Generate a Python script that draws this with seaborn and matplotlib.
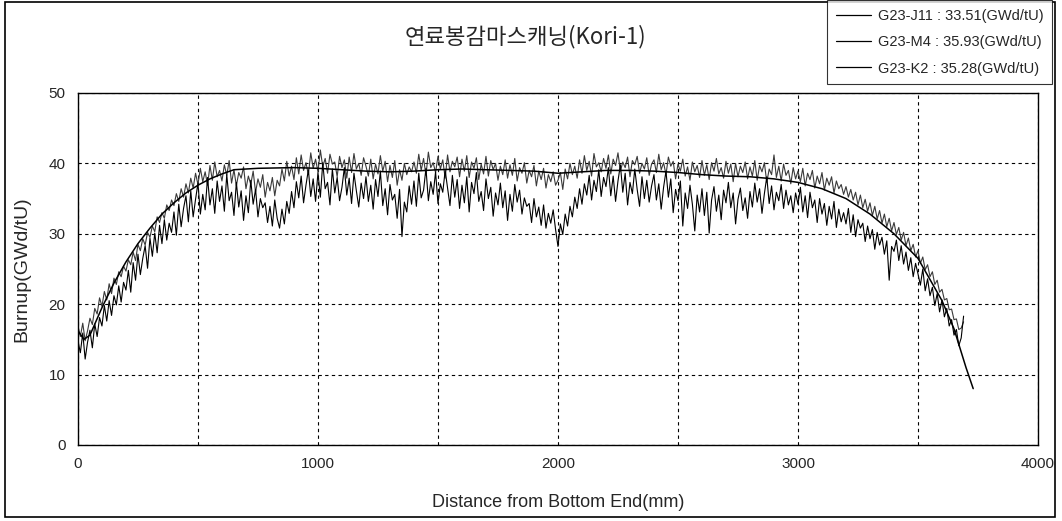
import numpy as np
import pandas as pd
import matplotlib
matplotlib.use('Agg')
import matplotlib.pyplot as plt
import seaborn as sns
from matplotlib.patches import Rectangle

# Distance (mm) and burnup (GWd/tU), 10 mm steps
noisy_x = list(range(0, 3700, 10))

j11_vals = [
    14.8, 13.1, 15.9, 12.2, 14.6, 16.3, 13.8, 17.2, 15.4, 18.1, 16.9, 19.8, 17.6, 20.5, 18.4, 21.2, 19.9, 22.6, 20.3, 23.1,
    22.0, 24.8, 21.7, 25.9, 23.4, 27.1, 24.2, 26.5, 28.3, 25.1, 29.4, 26.8, 30.1, 27.3, 31.2, 28.6, 32.0, 29.1, 31.5, 30.2,
    33.1, 29.8, 34.2, 31.0, 33.6, 35.4, 31.7, 36.1, 32.4, 34.9, 37.2, 32.8, 35.6, 33.4, 38.0, 34.1, 36.4, 32.9, 37.5, 34.6,
    36.8, 33.2, 38.4, 34.7, 35.9, 32.6, 37.3, 33.8, 36.1, 31.9, 35.4, 33.0, 37.6, 34.2, 36.3, 32.4, 35.0, 33.7, 34.4, 31.6,
    33.9, 31.1, 34.8, 32.2, 30.8, 33.5, 31.4, 34.6, 32.9, 36.0, 33.7, 37.4, 35.1, 38.2, 34.4, 36.9, 39.1, 35.3, 37.8, 34.6,
    38.7, 35.2, 40.1, 36.4, 37.3, 34.1, 39.2, 35.8, 38.0, 34.7, 36.6, 39.4, 35.5, 37.9, 34.3, 38.6, 36.1, 33.8, 37.2, 35.0,
    38.1, 34.6, 36.9, 33.5, 37.7, 35.3, 38.9, 34.0, 36.4, 32.7, 37.0, 34.8, 35.6, 32.2, 36.3, 29.6, 34.5, 33.1, 36.8, 34.2,
    37.5, 33.9, 38.6, 35.1, 36.2, 39.3, 34.7, 37.4, 35.6, 38.8, 34.3, 37.1, 35.9, 39.0, 36.5, 34.0, 38.3, 35.2, 37.7, 33.6,
    36.9, 34.4, 38.1, 33.1, 37.3, 35.7, 38.7, 34.6, 36.0, 33.3, 37.8, 35.0, 36.6, 32.5, 35.8, 34.1, 37.2, 33.7, 36.1, 31.9,
    35.6, 33.2, 37.0, 34.5, 36.2, 32.8, 35.1, 33.9, 34.3, 31.6, 35.0, 32.4, 33.8, 31.2, 34.1, 30.8, 32.9, 31.5, 33.4, 30.6,
    28.2, 31.4, 29.9, 32.8, 31.1, 33.9, 32.4, 35.2, 33.6, 36.4, 34.2, 37.1, 35.5, 38.3, 34.8, 37.6, 36.0, 39.1, 35.3, 38.0,
    36.7, 39.4, 35.4, 38.2, 34.6, 37.5, 39.8, 35.9, 38.6, 34.1, 37.3, 35.7, 39.2, 36.3, 33.9, 38.1, 35.0, 37.6, 34.5, 36.8,
    38.4, 34.8, 37.1, 33.5, 36.6, 38.9, 35.2, 37.8, 33.0, 36.3, 34.7, 37.5, 31.1, 35.8, 33.6, 36.9, 34.2, 30.4, 35.5, 33.1,
    36.4, 32.6, 35.9, 30.1, 34.8, 36.7, 33.2, 35.5, 32.0, 36.2, 34.4, 37.3, 33.7, 35.8, 31.4, 34.9, 36.5, 33.3, 35.1, 32.2,
    36.0, 33.8, 37.2, 34.5, 36.4, 32.9, 35.7, 38.1, 34.3, 36.8, 33.4, 35.9, 34.7, 37.0, 33.6, 36.2, 34.1, 35.4, 33.0, 35.8,
    34.2, 36.6, 33.1, 35.4, 32.3, 35.9, 33.7, 34.8, 31.6, 35.0, 32.8, 34.3, 31.2, 33.9, 32.1, 34.6, 30.9, 33.5, 31.7, 33.0,
    31.4, 33.6, 30.2, 32.7, 29.6, 32.0, 30.8, 31.5, 28.9, 31.1, 29.3, 30.6, 27.8, 30.2, 28.4, 29.5, 27.1, 29.0, 23.4, 28.2,
    27.5, 29.1, 26.2, 28.3, 25.7, 27.4, 24.8, 26.6, 23.9, 25.8, 24.3, 22.7, 25.0, 21.9, 23.6, 21.2, 22.4, 19.8, 21.5, 18.9,
    20.6, 18.2, 19.4, 16.9, 17.8, 15.6, 16.4, 14.1, 15.2, 18.3,
]

m4_vals = [
    16.9, 15.4, 17.3, 14.8, 16.2, 18.0, 17.1, 19.4, 18.6, 20.9, 19.7, 21.8, 20.6, 22.9, 21.5, 23.7, 22.8, 24.6, 23.9, 25.4,
    24.7, 26.3, 25.6, 27.4, 26.2, 28.5, 27.6, 29.3, 28.4, 30.2, 29.5, 31.1, 30.3, 32.4, 31.6, 33.0, 32.2, 34.1, 33.3, 34.8,
    34.0, 35.7, 34.6, 36.4, 35.2, 37.1, 35.8, 37.9, 36.5, 38.6, 37.0, 39.3, 37.4, 38.8, 36.9, 39.7, 37.6, 40.2, 38.1, 39.0,
    37.5, 39.8, 38.3, 40.4, 37.2, 39.1, 36.8, 38.7, 37.9, 39.5, 36.4, 38.2, 37.0, 38.9, 35.9, 37.8, 36.6, 38.4, 35.2, 37.3,
    36.1, 38.0, 35.4, 37.6, 36.8, 39.2, 37.5, 40.3, 38.2, 39.6, 37.7, 40.8, 38.5, 41.2, 39.0, 40.1, 38.4, 41.5, 39.3, 40.6,
    38.8, 41.9, 39.5, 40.7, 38.6, 41.3, 39.9, 40.2, 38.1, 41.0, 39.4, 40.5, 37.9, 40.9, 38.7, 41.4, 39.2, 40.0, 38.3, 40.8,
    39.6, 38.2, 40.6, 37.8, 39.9, 38.5, 41.1, 38.9, 40.3, 37.4, 39.7, 38.0, 40.4, 36.9, 39.1, 37.6, 40.0, 38.4, 39.5, 38.8,
    40.2, 38.6, 41.3, 39.0, 40.7, 38.3, 41.6, 39.4, 40.1, 38.7, 41.0, 39.2, 40.5, 37.9, 41.2, 38.8, 40.3, 39.5, 40.9, 38.1,
    40.6, 38.9, 41.1, 38.0, 40.2, 39.3, 40.8, 37.7, 39.9, 38.5, 41.0, 38.2, 40.4, 39.1, 40.0, 37.6, 39.6, 38.4, 40.5, 37.9,
    39.8, 38.3, 40.7, 37.5, 39.4, 38.6, 40.1, 37.2, 39.0, 38.1, 39.7, 36.8, 38.9, 37.7, 39.3, 36.5, 38.4, 37.4, 38.8, 36.9,
    37.6, 38.7, 36.3, 39.2, 37.8, 40.0, 38.4, 39.6, 37.9, 40.5, 38.6, 41.1, 39.0, 40.3, 38.2, 41.4, 39.5, 40.1, 38.8, 40.7,
    39.3, 41.2, 38.5, 40.6, 39.7, 41.5, 38.9, 40.2, 39.4, 40.9, 38.1, 40.4, 39.8, 41.0, 38.6, 40.0, 39.2, 40.8, 38.3, 39.9,
    40.5, 38.7, 41.3, 39.1, 40.1, 38.4, 40.9, 39.6, 40.3, 37.8, 39.9, 38.9, 40.6, 38.2, 39.5, 37.6, 40.2, 38.8, 39.7, 38.0,
    40.4, 38.3, 39.8, 37.7, 40.1, 38.9, 40.7, 38.5, 39.4, 37.9, 40.3, 38.6, 39.9, 37.4, 40.0, 38.1, 39.6, 38.7, 40.2, 37.8,
    39.5, 38.2, 40.4, 37.6, 39.7, 38.8, 40.1, 37.3, 39.2, 38.4, 41.2, 38.0, 39.6, 37.5, 39.9, 38.3, 39.0, 37.1, 39.4, 37.8,
    38.9, 37.4, 39.3, 36.8, 38.6, 37.7, 39.0, 36.5, 38.2, 37.1, 38.7, 36.2, 37.9, 36.9, 38.1, 35.8, 37.5, 36.4, 37.0, 35.6,
    36.7, 35.2, 36.3, 34.8, 35.9, 34.1, 35.5, 33.7, 34.9, 33.2, 34.4, 32.6, 33.9, 32.1, 33.3, 31.5, 32.8, 31.0, 32.2, 30.4,
    31.6, 29.9, 30.9, 29.1, 30.2, 28.3, 29.4, 27.6, 28.5, 26.7, 27.6, 25.8, 26.7, 24.9, 25.6, 23.9, 24.6, 22.8, 23.4, 21.7,
    22.1, 20.6, 20.8, 19.2, 19.3, 17.8, 17.9, 16.4, 16.6, 17.5,
]

k2_x = [0, 25, 50, 100, 150, 200, 250, 300, 350, 400, 450, 500, 550, 600, 650,
        750, 900, 1000, 1100, 1200, 1300, 1400, 1500, 1600, 1700, 1800, 1900,
        2000, 2100, 2200, 2300, 2400, 2500, 2600, 2700, 2800, 2900, 3000, 3100,
        3200, 3300, 3400, 3500, 3600, 3650, 3700, 3730]
k2_vals = [16.2, 15.0, 15.6, 19.5, 23.0, 26.0, 28.6, 30.8, 32.8, 34.4, 35.8, 36.9,
           37.8, 38.5, 39.1, 39.3, 39.4, 39.3, 39.1, 38.9, 38.8, 38.9, 39.1, 39.2,
           39.1, 39.0, 38.9, 38.6, 38.8, 39.0, 39.0, 38.9, 38.7, 38.4, 38.2, 38.1,
           37.8, 37.3, 36.4, 35.0, 32.8, 30.0, 26.5, 20.5, 16.5, 11.0, 8.0]

labels = ['G23-J11 : 33.51(GWd/tU)', 'G23-M4 : 35.93(GWd/tU)', 'G23-K2 : 35.28(GWd/tU)']

sns.set_style('white')
plt.rcParams['font.family'] = ['Liberation Sans', 'Noto Sans CJK KR', 'DejaVu Sans']

fig = plt.figure(figsize=(10.62, 5.21), dpi=100)
ax = fig.add_axes([0.0734, 0.146, 0.904, 0.6755])

sns.lineplot(x=noisy_x, y=m4_vals, ax=ax, color='#3a3a3a', lw=0.8,
             estimator=None, sort=False, label=labels[1])
sns.lineplot(x=noisy_x, y=j11_vals, ax=ax, color='black', lw=0.8,
             estimator=None, sort=False, label=labels[0])
sns.lineplot(x=k2_x, y=k2_vals, ax=ax, color='black', lw=1.1,
             estimator=None, sort=False, label=labels[2])

ax.set_xlim(0, 4000)
ax.set_ylim(0, 50)
ax.set_xticks(range(0, 4001, 500))
ax.set_xticklabels([str(v) if v % 1000 == 0 else '' for v in range(0, 4001, 500)])
ax.set_yticks(range(0, 51, 10))
ax.tick_params(length=0, labelsize=11, pad=9)
ax.grid(True, color='black', linestyle=(0, (3, 3)), linewidth=0.8)
for s in ax.spines.values():
    s.set_color('black')
    s.set_linewidth(1.0)

ax.set_xlabel('Distance from Bottom End(mm)', fontsize=13, labelpad=16)
ax.set_ylabel('Burnup(GWd/tU)', fontsize=14, labelpad=13)
fig.text(0.495, 0.929, '연료봉감마스캐닝(Kori-1)', ha='center', va='center',
         fontsize=16, family=['Noto Sans CJK KR', 'DejaVu Sans'])

# legend order as in the reference box
handles, lbls = ax.get_legend_handles_labels()
order = [1, 0, 2]
ax.get_legend().remove()
leg = fig.legend([handles[i] for i in order], [lbls[i] for i in order],
                 loc='upper right', bbox_to_anchor=(0.991, 1.0), fontsize=10.5,
                 frameon=True, fancybox=False, edgecolor='black',
                 labelspacing=0.85, handlelength=2.4, handletextpad=0.5,
                 borderpad=0.6, borderaxespad=0)
leg.get_frame().set_linewidth(0.8)
for ln in leg.get_lines():
    ln.set_color('black')
    ln.set_linewidth(0.9)

fig.patches.append(Rectangle((0.005, 0.008), 0.988, 0.988, transform=fig.transFigure,
                             fill=False, edgecolor='black', lw=1.2))

fig.savefig('out.png', dpi=100)
